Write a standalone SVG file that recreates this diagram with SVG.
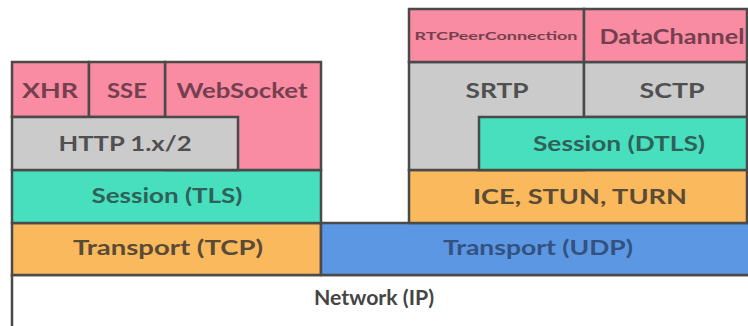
<svg xmlns="http://www.w3.org/2000/svg" width="748" height="326" viewBox="0 0 748 326">
<style>
.b{stroke:#4a4a4a;stroke-width:2.5;stroke-linejoin:miter}
.pk{fill:#f98ba2}.gy{fill:#cbcbcb}.tl{fill:#47dfbe}.or{fill:#f9b95c}.bl{fill:#5c97e3}.wh{fill:#ffffff}
text{font-family:Lato,"Open Sans","Liberation Sans",sans-serif;font-size:21px;font-weight:bold;text-anchor:middle}
.tpk{fill:#74404f}.tgy{fill:#505050}.ttl{fill:#2f6159}.tor{fill:#594b35}.tbl{fill:#33527f}.twh{fill:#454545}
</style>
<rect width="748" height="326" fill="#ffffff"/>
<g id="network"><path class="b wh" d="M12,340 V275 H760"/><text class="twh" x="374" y="305" textLength="120" lengthAdjust="spacingAndGlyphs">Network (IP)</text></g>
<g id="tcp"><rect class="b or" x="12" y="223" width="309" height="52"/><text class="tor" x="168" y="255" textLength="190" lengthAdjust="spacingAndGlyphs">Transport (TCP)</text></g>
<g id="udp"><rect class="b bl" x="321" y="223" width="440" height="52"/><text class="tbl" x="538" y="255" textLength="190" lengthAdjust="spacingAndGlyphs">Transport (UDP)</text></g>
<g id="tls"><rect class="b tl" x="12" y="170" width="309" height="53"/><text class="ttl" x="167" y="203" textLength="151" lengthAdjust="spacingAndGlyphs">Session (TLS)</text></g>
<g id="websocket"><rect class="b pk" x="165" y="62" width="156" height="108"/><text class="tpk" x="242" y="98" textLength="131" lengthAdjust="spacingAndGlyphs">WebSocket</text></g>
<g id="xhr"><rect class="b pk" x="12" y="62" width="77" height="55"/><text class="tpk" x="50" y="98" textLength="56" lengthAdjust="spacingAndGlyphs">XHR</text></g>
<g id="sse"><rect class="b pk" x="89" y="62" width="76" height="55"/><text class="tpk" x="127" y="98" textLength="40" lengthAdjust="spacingAndGlyphs">SSE</text></g>
<g id="http"><rect class="b gy" x="12" y="117" width="226" height="53"/><text class="tgy" x="125" y="151" textLength="133" lengthAdjust="spacingAndGlyphs">HTTP 1.x/2</text></g>
<g id="ice"><rect class="b or" x="409" y="170" width="338" height="53"/><text class="tor" x="580" y="204" textLength="214" lengthAdjust="spacingAndGlyphs">ICE, STUN, TURN</text></g>
<g id="srtp"><rect class="b gy" x="409" y="62" width="175" height="108"/><text class="tgy" x="497" y="98" textLength="63" lengthAdjust="spacingAndGlyphs">SRTP</text></g>
<g id="sctp"><rect class="b gy" x="584" y="62" width="163" height="55"/><text class="tgy" x="672" y="98" textLength="65" lengthAdjust="spacingAndGlyphs">SCTP</text></g>
<g id="dtls"><rect class="b tl" x="479" y="117" width="268" height="53"/><text class="ttl" x="619" y="151" textLength="172" lengthAdjust="spacingAndGlyphs">Session (DTLS)</text></g>
<g id="rtcpeerconnection"><rect class="b pk" x="409" y="9" width="175" height="53"/><text class="tpk" x="496" y="40" style="font-size:12px" textLength="163" lengthAdjust="spacingAndGlyphs">RTCPeerConnection</text></g>
<g id="datachannel"><rect class="b pk" x="584" y="9" width="163" height="53"/><text class="tpk" x="672" y="44" textLength="145" lengthAdjust="spacingAndGlyphs">DataChannel</text></g>
<g id="connectors"></g>
</svg>
